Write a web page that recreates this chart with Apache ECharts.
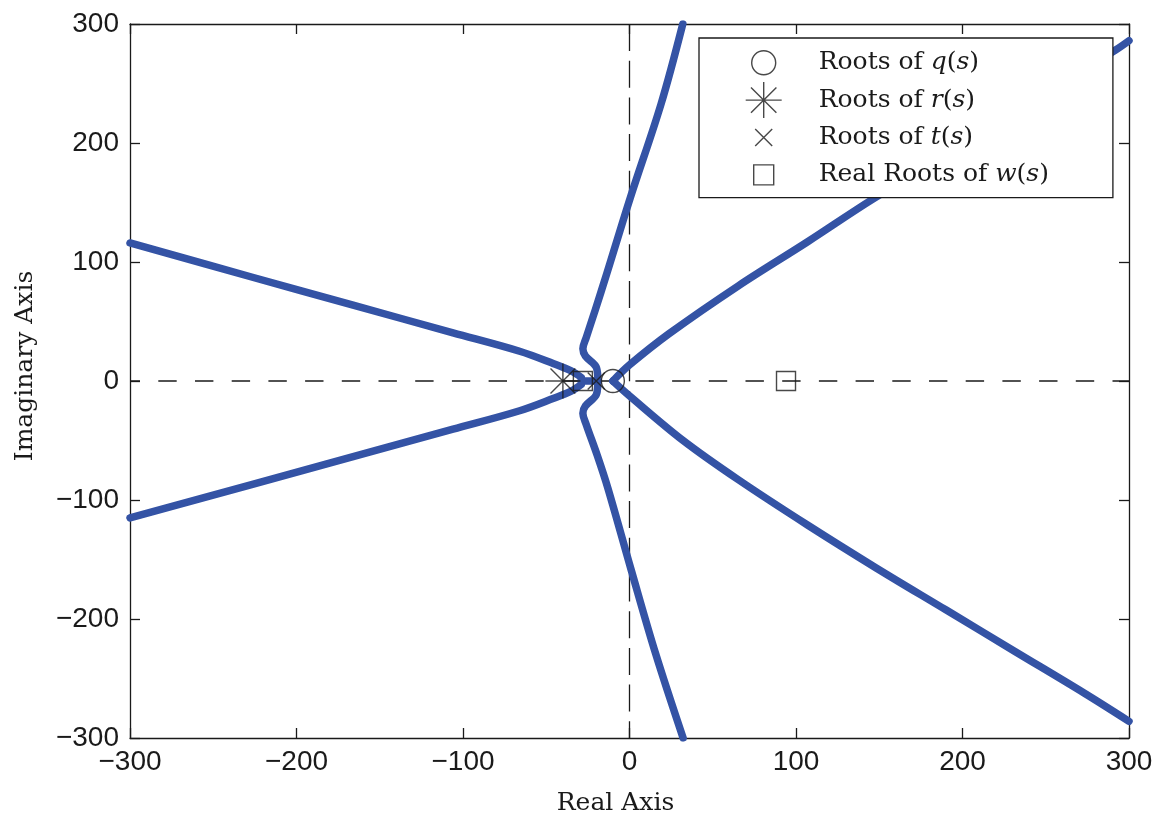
<!DOCTYPE html>
<html>
<head>
<meta charset="utf-8">
<script src="https://cdn.jsdelivr.net/npm/echarts@6/dist/echarts.min.js"></script>
<style>
html,body{margin:0;padding:0;background:#fff;}
#chart{width:1157px;height:815px;}
</style>
</head>
<body>
<div id="chart"></div>
<script>
// ---- axis settings ----
const axisMin = -300;
const axisMax = 300;
const axisStep = 100;

// ---- root markers ----
const qRoots = [[-10, 0]];
const rRoots = [[-40, 0]];
const tRoots = [[-20, 0]];
const wRealRoots = [[-28, 0], [94, 0]];

// ---- root locus branches ----
const branchUpperLeft = [[-300,116],[-227,87.4],[-166,63.7],[-106,40.5],[-66,25],[-45.5,14.5],[-35,8.5],[-29,3]];
const branchLowerLeft = [[-300,-115],[-227,-87],[-166,-63.5],[-106,-40.5],[-66,-25],[-45.5,-14.5],[-35,-8.5],[-29,-3]];
const branchUpperMid = [[-19,0],[-19.8,11],[-26.5,21],[-28,27],[-26,36.5],[-20.5,60],[-13.7,90],[0.6,154.5],[19,233],[32,300]];
const branchLowerMid = [[-19,0],[-19.8,-11],[-26.5,-21],[-28,-27],[-26,-36.5],[-19.5,-62],[-13,-90],[1,-158.7],[15.6,-228.7],[32.2,-300]];
const branchUpperRight = [[-10,0],[0,13.5],[24,40],[65.4,80],[107,117],[146.4,153],[291.7,278],[300,286]];
const branchLowerRight = [[-10,0],[0,-12.5],[32.2,-50],[65.4,-83],[106.9,-121],[148.4,-157.3],[190,-192.3],[231.5,-227.3],[273,-262.2],[300,-286]];
const realAxisSegment = [[-29,0],[-19,0]];

// ---- reference lines ----
const zeroHLine = [[axisMin,0],[axisMax,0]];
const zeroVLine = [[0,axisMax],[0,axisMin]];

const BLUE = '#3453a5';
const INK = '#1a1a1a';
const SERIF = "'DejaVu Serif', serif";
const SANS = "'Liberation Sans', Arial, sans-serif";

function fmtTick(v){ return v < 0 ? '\u2212' + Math.abs(v) : String(v); }

const chart = echarts.init(document.getElementById('chart'), null, {renderer:'canvas'});

function branch(data){
  return {
    type:'line', data:data, xAxisIndex:0, yAxisIndex:0,
    showSymbol:false, symbol:'none', smooth:0.35, silent:true, z:3,
    lineStyle:{color:BLUE, width:7.5, cap:'round', join:'round'}
  };
}
function dashed(data, dash, offset){
  return {
    type:'line', data:data, xAxisIndex:0, yAxisIndex:0,
    showSymbol:false, symbol:'none', silent:true, z:2,
    lineStyle:{color:INK, width:1.3, type:dash, dashOffset:offset}
  };
}
const markerStyle = {color:'rgba(0,0,0,0)', borderColor:INK, borderWidth:1.4};

const PAD = ' M-50 -18 M50 18';
const asteriskPath = 'path://M0 -17.5 L0 17.5 M-17.5 0 L17.5 0 M-12.4 -12.4 L12.4 12.4 M-12.4 12.4 L12.4 -12.4';
const xPath = 'path://M-1 -1 L1 1 M-1 1 L1 -1';

const legendIcons = {
  'Roots of q(s)': 'path://M-12 0 A12 12 0 1 1 12 0 A12 12 0 1 1 -12 0 Z' + PAD,
  'Roots of r(s)': 'path://M0 -18 L0 18 M-18 0 L18 0 M-12.7 -12.7 L12.7 12.7 M-12.7 12.7 L12.7 -12.7' + PAD,
  'Roots of t(s)': 'path://M-8.5 -8.5 L8.5 8.5 M-8.5 8.5 L8.5 -8.5' + PAD,
  'Real Roots of w(s)': 'path://M-10 -10 L10 -10 L10 10 L-10 10 Z' + PAD
};

const option = {
  animation:false,
  backgroundColor:'#fff',
  grid:{left:130, right:28, top:24, bottom:77, outerBoundsMode:'none', containLabel:false},
  xAxis:[{
    type:'value', min:axisMin, max:axisMax, interval:axisStep, position:'bottom',
    name:'Real Axis', nameLocation:'middle', nameGap:53,
    nameTextStyle:{fontFamily:SERIF, fontSize:25, color:INK, padding:[0,28,0,0]},
    axisLine:{onZero:false, lineStyle:{color:INK, width:1.3}},
    axisTick:{inside:true, length:10, lineStyle:{color:INK, width:1.3}},
    axisLabel:{formatter:fmtTick, fontFamily:SANS, fontSize:28, color:INK, margin:10},
    splitLine:{show:false}
  },{
    type:'value', min:axisMin, max:axisMax, interval:axisStep, position:'top',
    axisLine:{onZero:false, lineStyle:{color:INK, width:1.3}},
    axisTick:{inside:true, length:10, lineStyle:{color:INK, width:1.3}},
    axisLabel:{show:false}, splitLine:{show:false}
  }],
  yAxis:[{
    type:'value', min:axisMin, max:axisMax, interval:axisStep, position:'left',
    name:'Imaginary Axis', nameLocation:'middle', nameGap:92,
    nameTextStyle:{fontFamily:SERIF, fontSize:25, color:INK, padding:[0,0,0,30]},
    axisLine:{onZero:false, lineStyle:{color:INK, width:1.3}},
    axisTick:{inside:true, length:10, lineStyle:{color:INK, width:1.3}},
    axisLabel:{formatter:fmtTick, fontFamily:SANS, fontSize:28, color:INK, margin:11},
    splitLine:{show:false}
  },{
    type:'value', min:axisMin, max:axisMax, interval:axisStep, position:'right',
    axisLine:{onZero:false, lineStyle:{color:INK, width:1.3}},
    axisTick:{inside:true, length:10, lineStyle:{color:INK, width:1.3}},
    axisLabel:{show:false}, splitLine:{show:false}
  }],
  legend:{
    orient:'vertical', left:699, top:38,
    padding:[6,64,4,14], itemWidth:100, itemHeight:36, itemGap:0,
    backgroundColor:'#fff', borderColor:INK, borderWidth:1.3,
    selectedMode:false,
    data:Object.keys(legendIcons).map(n => ({
      name:n, icon:legendIcons[n],
      itemStyle:{color:'rgba(0,0,0,0)', borderColor:INK, borderWidth:1.4}
    })),
    formatter:function(name){
      const m = name.match(/^(.*of )(\w)\((\w)\)$/);
      if(!m) return name;
      return '{n|' + m[1] + '}{i|' + m[2] + '}{n|(}{i|' + m[3] + '}{n|)}';
    },
    textStyle:{
      fontFamily:SERIF, fontSize:25, color:INK,
      rich:{
        n:{fontFamily:SERIF, fontSize:25, color:INK},
        i:{fontFamily:SERIF, fontSize:25, color:INK, fontStyle:'italic'}
      }
    }
  },
  series:[
    dashed(zeroHLine, [18.4,18.3], 8.4),
    dashed(zeroVLine, [27,9.7], 0),
    branch(branchUpperLeft),
    branch(branchLowerLeft),
    branch(branchUpperMid),
    branch(branchLowerMid),
    branch(branchUpperRight),
    branch(branchLowerRight),
    branch(realAxisSegment),
    {name:'Roots of q(s)', type:'scatter', data:qRoots, symbol:'circle', symbolSize:23, itemStyle:markerStyle, z:5, silent:true},
    {name:'Roots of r(s)', type:'scatter', data:rRoots, symbol:asteriskPath, symbolSize:35, itemStyle:markerStyle, z:5, silent:true},
    {name:'Roots of t(s)', type:'scatter', data:tRoots, symbol:xPath, symbolSize:17, itemStyle:markerStyle, z:5, silent:true},
    {name:'Real Roots of w(s)', type:'scatter', data:wRealRoots, symbol:'rect', symbolSize:19, itemStyle:markerStyle, z:5, silent:true}
  ]
};
chart.setOption(option);
</script>
</body>
</html>
